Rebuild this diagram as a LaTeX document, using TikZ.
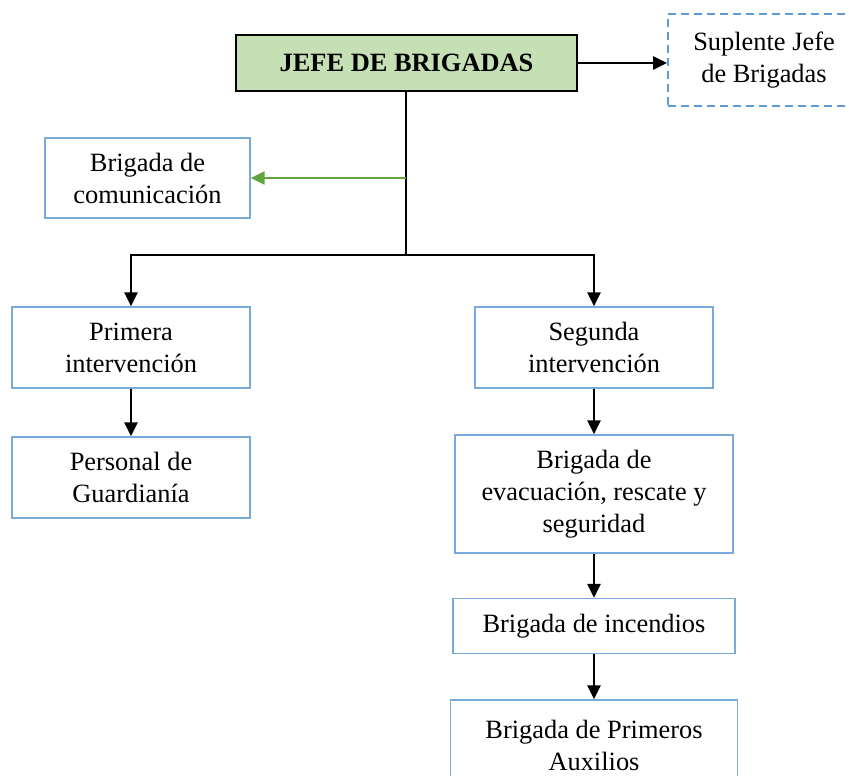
\documentclass[tikz,border=0pt]{standalone}
\usepackage{fontspec}
\setmainfont{Liberation Serif}
\usetikzlibrary{arrows.meta}
\definecolor{boxblue}{RGB}{120,170,220}
\definecolor{dashblue}{RGB}{91,155,213}
\definecolor{jefegreen}{RGB}{197,224,180}
\definecolor{arrgreen}{RGB}{98,165,60}
\begin{document}
\begin{tikzpicture}[x=1pt,y=-1pt,
  every node/.style={font=\fontsize{26.4}{32}\selectfont, align=center, inner sep=0pt},
  bluebox/.style={draw=boxblue, line width=1.4pt},
  conn/.style={line width=2.8pt, -{Triangle[length=14pt,width=13pt]}},
  plainconn/.style={line width=2.8pt}]
\useasboundingbox (0,0) rectangle (849,776);
\clip (0,0) rectangle (849,776);
\node[draw=black, line width=2.8pt, fill=jefegreen, minimum width=341pt, minimum height=56pt] (jefe) at (406.5,63) {\textbf{JEFE DE BRIGADAS}};
\node[draw=dashblue, line width=1.8pt, dash pattern=on 8pt off 5pt, minimum width=192pt, minimum height=92pt] (sup) at (764,60) {Suplente Jefe\\de Brigadas};
\node[bluebox, minimum width=205pt, minimum height=80pt] (com) at (147.5,178) {Brigada de\\comunicación};
\node[bluebox, minimum width=238pt, minimum height=81pt] (pri) at (131,347.5) {Primera\\intervención};
\node[bluebox, minimum width=238pt, minimum height=81pt] (per) at (131,477.5) {Personal de\\Guardianía};
\node[bluebox, minimum width=238pt, minimum height=81pt] (seg) at (594,347.5) {Segunda\\intervención};
\node[bluebox, minimum width=278pt, minimum height=118pt] (eva) at (594,494) {Brigada de\\evacuación, rescate y\\seguridad};
\node[bluebox, minimum width=282pt, minimum height=55pt] (inc) at (594,626) {Brigada de incendios};
\node[bluebox, minimum width=287pt, minimum height=90pt] (aux) at (594,745) {Brigada de Primeros\\Auxilios};
\coordinate (split) at (406,255);
\coordinate (gsplit) at (406,178);
\draw[conn] (jefe.east) -- (jefe.east -| sup.west);
\draw[plainconn] (jefe.south -| split) -- (split);
\draw[line width=2.4pt, draw=arrgreen, -{Triangle[length=14pt,width=13pt]}] (gsplit) -- (com.east);
\draw[conn] (split) -| (pri.north);
\draw[conn] (split) -| (seg.north);
\draw[conn] (pri) -- (per);
\draw[conn] (seg) -- (eva);
\draw[conn] (eva) -- (inc);
\draw[conn] (inc) -- (aux);
\end{tikzpicture}
\end{document}
